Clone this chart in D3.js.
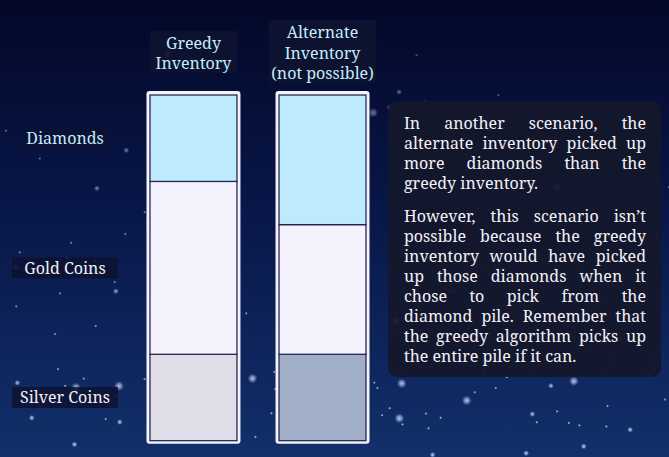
<!DOCTYPE html>
<html>
<head>
<meta charset="utf-8">
<script src="https://cdn.jsdelivr.net/npm/d3@7"></script>
<style>
  html, body { margin: 0; padding: 0; background: #050b2e; }
  svg { display: block; }
</style>
</head>
<body>
<div id="chart"></div>
<script>
// data
const inventories = ["Greedy", "Alternate"];
const inventoryTitles = [["Greedy", "Inventory"], ["Alternate", "Inventory", "(not possible)"]];
const items = ["Silver Coins", "Gold Coins", "Diamonds"];   // bottom to top
const diamonds = [2, 3];
const goldCoins = [4, 3];
const silverCoins = [2, 2];
const note = [
  ["In another scenario, the", "alternate inventory picked up", "more diamonds than the", "greedy inventory."],
  ["However, this scenario isn\u2019t", "possible because the greedy", "inventory would have picked",
   "up those diamonds when it", "chose to pick from the", "diamond pile. Remember that",
   "the greedy algorithm picks up", "the entire pile if it can."]
];

const width = 669, height = 457;
const fontFam = "'Noto Serif', 'DejaVu Serif'";

const svg = d3.select("#chart")
  .append("svg")
  .attr("width", width)
  .attr("height", height);

// night sky background
const defs = svg.append("defs");
const grad = defs.append("linearGradient").attr("id", "sky")
  .attr("x1", 0).attr("y1", 0).attr("x2", 0).attr("y2", 1);
grad.append("stop").attr("offset", "0%").attr("stop-color", "#030828");
grad.append("stop").attr("offset", "45%").attr("stop-color", "#081648");
grad.append("stop").attr("offset", "100%").attr("stop-color", "#12306a");
const glow = defs.append("radialGradient").attr("id", "glow");
glow.append("stop").attr("offset", "0%").attr("stop-color", "#dde4ff").attr("stop-opacity", 0.95);
glow.append("stop").attr("offset", "45%").attr("stop-color", "#b8c4f0").attr("stop-opacity", 0.7);
glow.append("stop").attr("offset", "100%").attr("stop-color", "#8090d0").attr("stop-opacity", 0);

svg.append("rect").attr("width", width).attr("height", height).attr("fill", "url(#sky)");

// decorative stars (seeded, not data)
const rnd = d3.randomLcg(0.4217);
const stars = d3.range(150).map(() => ({ x: rnd() * width, y: Math.sqrt(rnd()) * height, r: rnd() }));
svg.append("g").selectAll("circle")
  .data(stars)
  .join("circle")
  .attr("cx", d => d.x)
  .attr("cy", d => d.y)
  .attr("r", d => d.r > 0.93 ? 5 : d.r > 0.75 ? 3 : 1.6)
  .attr("fill", "url(#glow)")
  .attr("opacity", d => 0.35 + 0.6 * (d.y / height));

// scales
const x = d3.scaleBand()
  .domain(inventories)
  .range([150, 366])
  .paddingInner(0.326)
  .paddingOuter(0);

const y = d3.scaleLinear()
  .domain([0, 8])
  .range([440.7, 95]);

const table = inventories.map((inv, i) => ({
  inv: inv,
  "Silver Coins": silverCoins[i],
  "Gold Coins": goldCoins[i],
  "Diamonds": diamonds[i]
}));
const series = d3.stack().keys(items)(table);

const fills = {
  "Diamonds": ["#bdebfd", "#bdebfd"],
  "Gold Coins": ["#f4f2fd", "#f4f2fd"],
  "Silver Coins": ["#dfdee8", "#a0aec8"]
};

// white frame around each bar
svg.append("g").selectAll("rect")
  .data(inventories)
  .join("rect")
  .attr("x", d => x(d) - 3.5)
  .attr("y", y(8) - 4)
  .attr("width", x.bandwidth() + 7)
  .attr("height", y(0) - y(8) + 7)
  .attr("rx", 3)
  .attr("fill", "#f4f2fd");

// stacked segments
svg.append("g").selectAll("g")
  .data(series)
  .join("g")
  .selectAll("rect")
  .data(s => s.map((d, i) => ({ key: s.key, i: i, d: d })))
  .join("rect")
  .attr("x", e => x(inventories[e.i]))
  .attr("y", e => y(e.d[1]))
  .attr("width", x.bandwidth())
  .attr("height", e => y(e.d[0]) - y(e.d[1]))
  .attr("fill", e => fills[e.key][e.i])
  .attr("stroke", "#272852")
  .attr("stroke-width", 1.3);

// category labels, placed at the greedy segments
const greedy = series.map(s => ({ key: s.key, mid: (s[0][0] + s[0][1]) / 2 }));
const labels = svg.append("g").selectAll("g")
  .data(greedy)
  .join("g")
  .attr("transform", d => `translate(65,${y(d.mid)})`);
labels.append("rect")
  .attr("x", d => d.key === "Diamonds" ? -43 : -53)
  .attr("y", -10.5)
  .attr("width", d => d.key === "Diamonds" ? 86 : 106)
  .attr("height", 21)
  .attr("fill", "#0d1330")
  .attr("opacity", d => d.key === "Diamonds" ? 0.55 : 0.85);
labels.append("text")
  .attr("text-anchor", "middle")
  .attr("dy", "0.36em")
  .style("font-family", fontFam)
  .style("font-size", "16px")
  .attr("fill", d => d.key === "Diamonds" ? "#c6ecfa" : "#f1f0fa")
  .text(d => d.key);

// column titles
const titles = svg.append("g").selectAll("g")
  .data(inventories)
  .join("g")
  .attr("transform", d => `translate(${x(d) + x.bandwidth() / 2},0)`);
titles.append("rect")
  .attr("x", (d, i) => i === 0 ? -43.5 : -54)
  .attr("y", (d, i) => i === 0 ? 31 : 20)
  .attr("width", (d, i) => i === 0 ? 87 : 108)
  .attr("height", (d, i) => i === 0 ? 42 : 63)
  .attr("rx", 2)
  .attr("fill", "#0e1430")
  .attr("opacity", 0.85);
titles.append("text")
  .attr("text-anchor", "middle")
  .style("font-family", fontFam)
  .style("font-size", "16px")
  .attr("fill", "#c6ecfa")
  .selectAll("tspan")
  .data((d, i) => inventoryTitles[i].map((t, j) => ({ t: t, j: j, n: inventoryTitles[i].length })))
  .join("tspan")
  .attr("x", 0)
  .attr("y", e => (e.n === 2 ? 48.5 : 38) + e.j * 20.5)
  .text(e => e.t);

// explanation box with justified lines
const boxX = 388, boxY = 101, boxW = 273, boxH = 276;
svg.append("rect")
  .attr("x", boxX).attr("y", boxY)
  .attr("width", boxW).attr("height", boxH)
  .attr("rx", 9)
  .attr("fill", "#14182b")
  .attr("opacity", 0.93);

const textLeft = 404, textRight = 646, fs = 16;
const noteG = svg.append("g")
  .style("font-family", fontFam)
  .style("font-size", fs + "px")
  .attr("fill", "#f4f2f8");

let baseY = 129;
note.forEach((para, pi) => {
  para.forEach((line, li) => {
    const words = line.split(" ");
    const last = li === para.length - 1;
    const ws = words.map(w => {
      const t = noteG.append("text").attr("y", baseY).text(w);
      return { node: t, w: t.node().getComputedTextLength() };
    });
    const total = d3.sum(ws, d => d.w);
    const space = last || words.length < 2 ? fs * 0.26 : (textRight - textLeft - total) / (words.length - 1);
    let cx = textLeft;
    ws.forEach(d => { d.node.attr("x", cx); cx += d.w + space; });
    baseY += 20;
  });
  baseY += 13;
});
</script>
</body>
</html>
